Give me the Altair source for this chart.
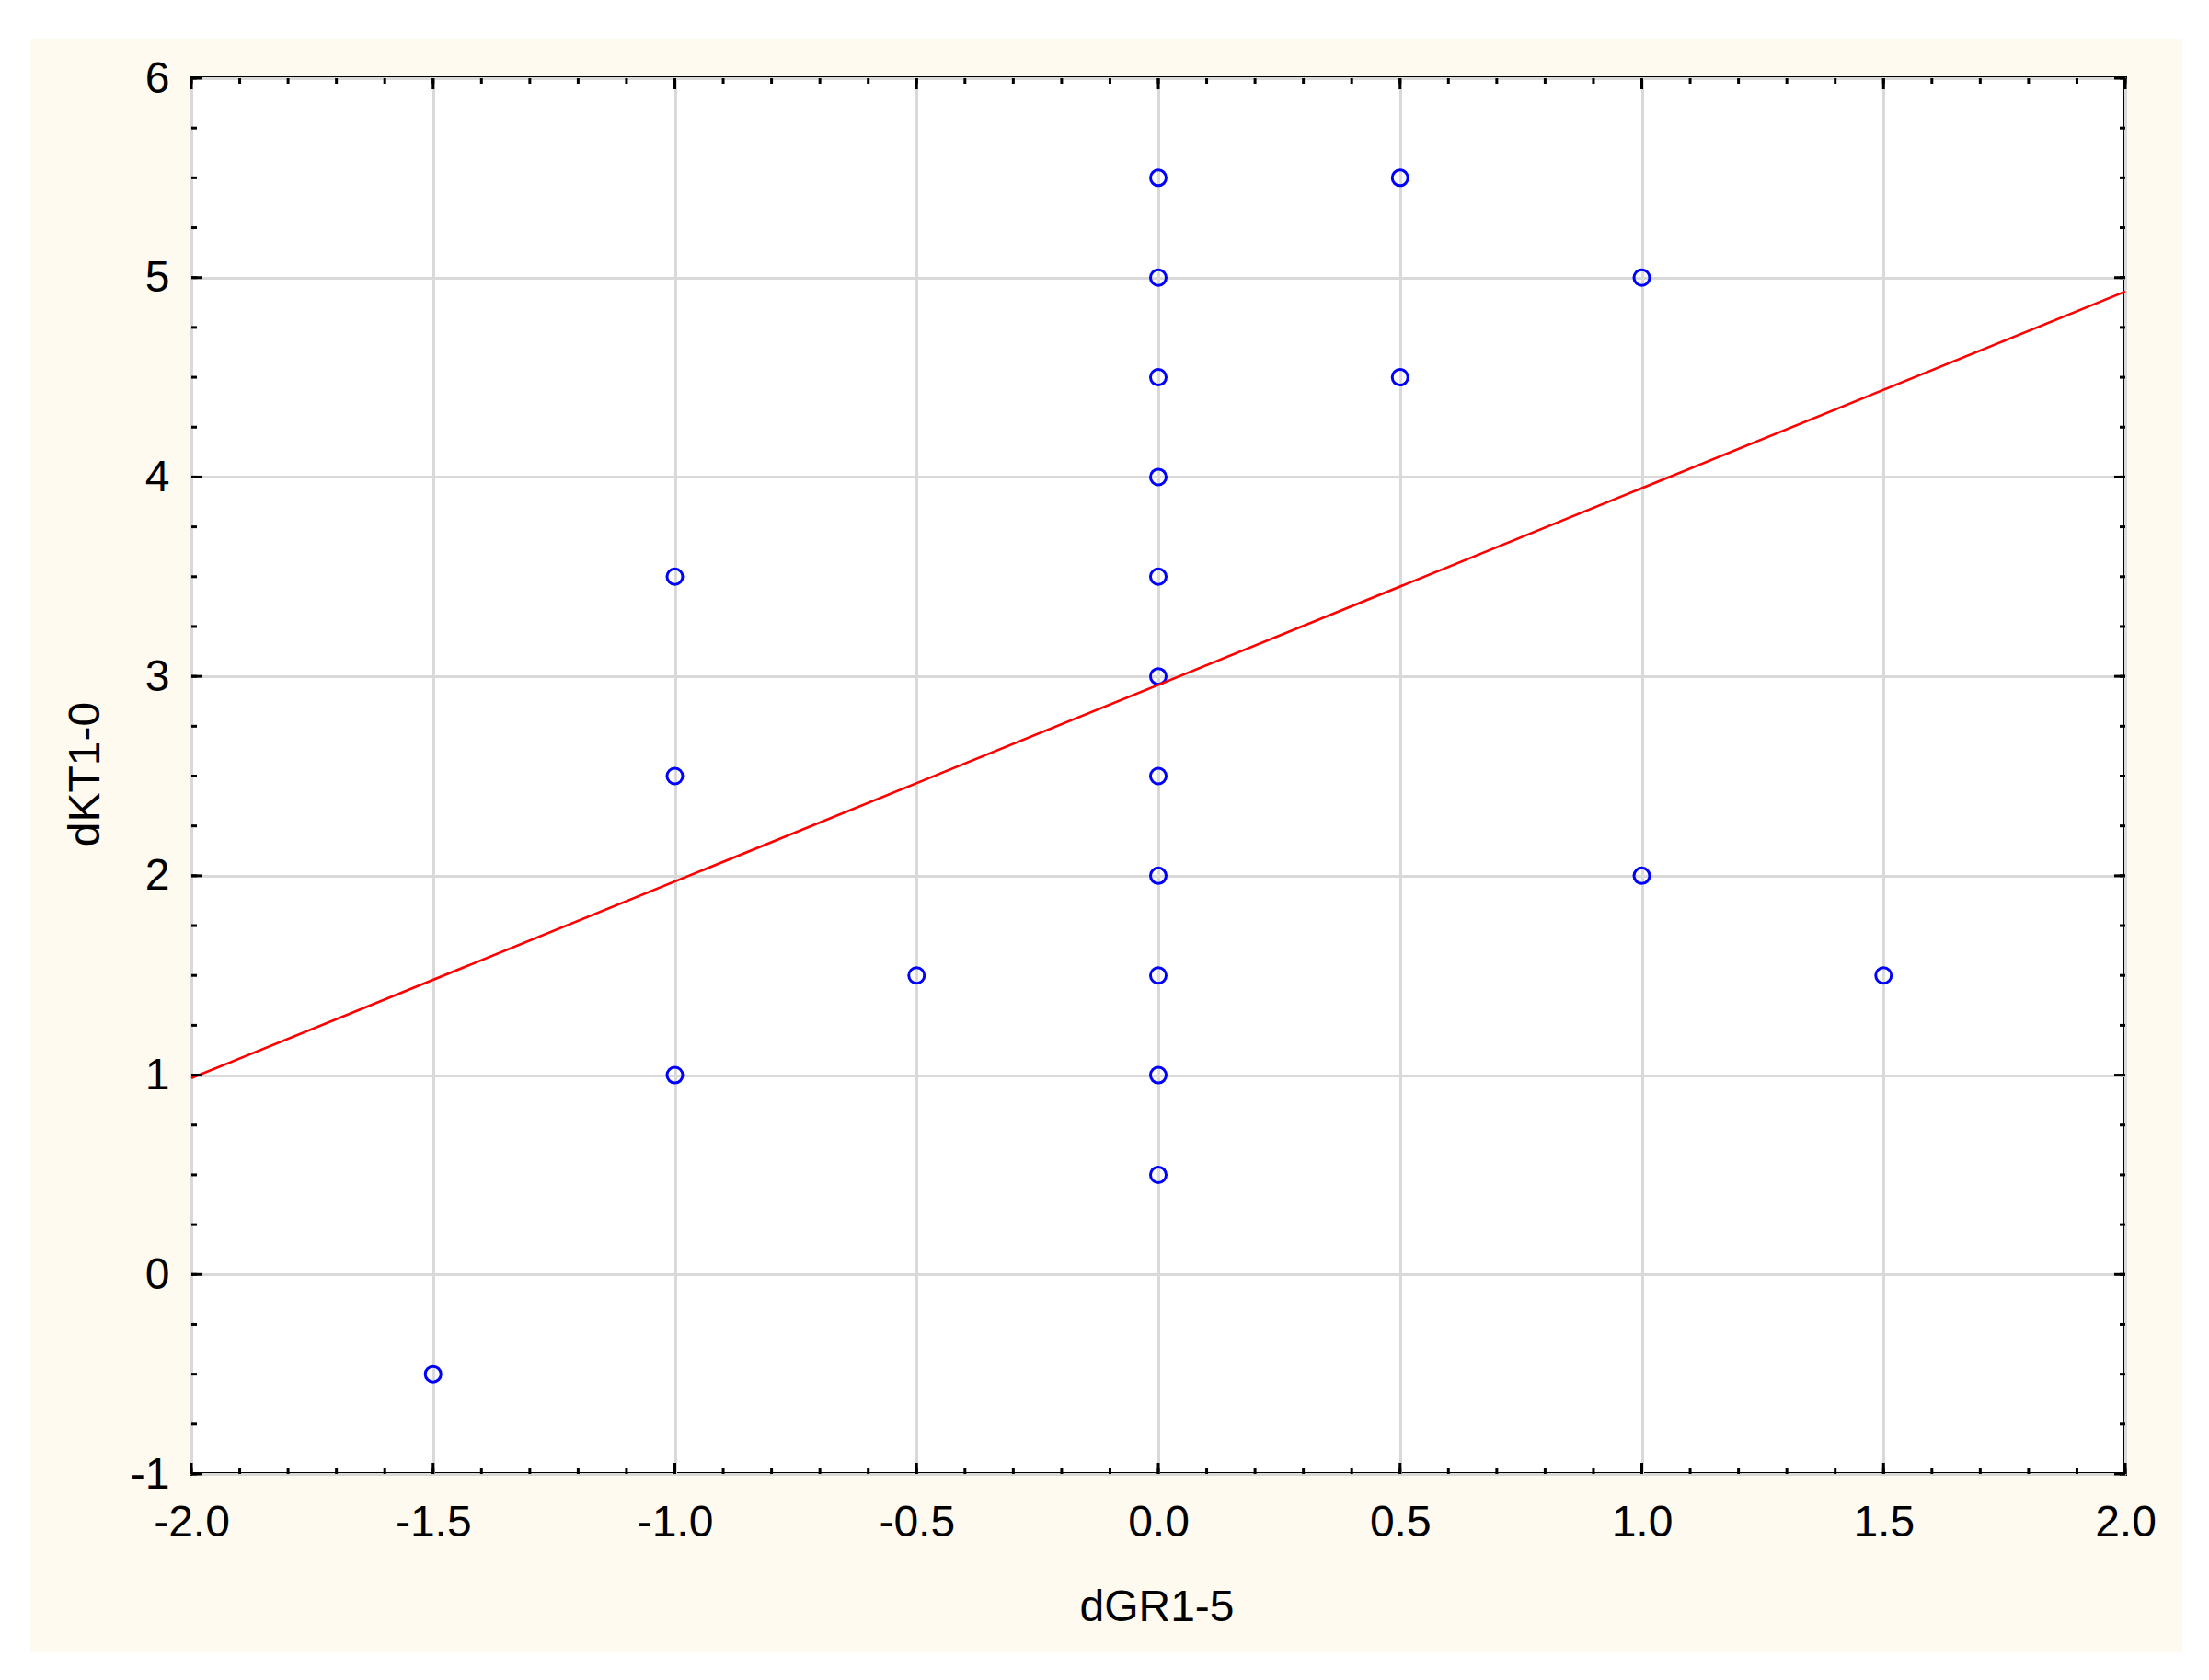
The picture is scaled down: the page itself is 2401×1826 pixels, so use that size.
import altair as alt
import pandas as pd
import numpy as np

# ---- data ----
pts_x = [0, 0, 0, 0, 0, 0, 0, 0, 0, 0, 0,
         0.5, 0.5, 1.0, 1.0, 1.5, -0.5, -1.0, -1.0, -1.0, -1.5]
pts_y = [5.5, 5.0, 4.5, 4.0, 3.5, 3.0, 2.5, 2.0, 1.5, 1.0, 0.5,
         5.5, 4.5, 5.0, 2.0, 1.5, 1.5, 3.5, 2.5, 1.0, -0.5]

line_x = [-2.0, 2.0]
line_y = [0.985, 4.93]

x_major = [-2.0, -1.5, -1.0, -0.5, 0.0, 0.5, 1.0, 1.5, 2.0]
y_major = [-1, 0, 1, 2, 3, 4, 5, 6]
x_minor = [round(v, 2) for v in np.arange(-2.0, 2.0001, 0.1)]
y_minor = [round(v, 2) for v in np.arange(-1.0, 6.0001, 0.25)]

W, H = 2102, 1517
FONT = "Liberation Sans"
CREAM = "#fffaf0"

pts = pd.DataFrame({"x": pts_x, "y": pts_y})
line = pd.DataFrame({"x": line_x, "y": line_y})

xscale = alt.Scale(domain=[-2, 2], nice=False, zero=False)
yscale = alt.Scale(domain=[-1, 6], nice=False, zero=False)

xaxis = alt.Axis(values=x_major, grid=True, ticks=False, domain=False,
                 labelExpr="datum.value < 0 ? '-' + format(-datum.value, '.1f') : format(datum.value, '.1f')",
                 labelFont=FONT, labelFontSize=48, labelColor="black", labelPadding=29,
                 labelFlush=False, labelOverlap=False,
                 gridColor="#d9d9d9", gridWidth=3,
                 title="dGR1-5", titleFont=FONT, titleFontSize=48, titleFontWeight="normal",
                 titleColor="black", titleX=1049, titleY=159, titleBaseline="alphabetic",
                 titleAlign="center")
yaxis = alt.Axis(values=y_major, grid=True, ticks=False, domain=False,
                 labelExpr="datum.value < 0 ? '-' + format(-datum.value, 'd') : format(datum.value, 'd')",
                 labelFont=FONT, labelFontSize=48, labelColor="black", labelPadding=24,
                 labelFlush=False, labelOverlap=False, labelOffset=1,
                 gridColor="#d9d9d9", gridWidth=3,
                 title="dKT1-0", titleFont=FONT, titleFontSize=48, titleFontWeight="normal",
                 titleColor="black", titleX=-101, titleY=756, titleAngle=270,
                 titleBaseline="alphabetic", titleAlign="center")

one = pd.DataFrame({"a": [0]})

strip_left = alt.Chart(one).mark_rect(color="white").encode(
    x=alt.value(-200), x2=alt.value(-175), y=alt.value(-77), y2=alt.value(1711))
strip_top = alt.Chart(one).mark_rect(color="white").encode(
    x=alt.value(-200), x2=alt.value(2164), y=alt.value(-77), y2=alt.value(-43))

points = alt.Chart(pts).mark_point(shape="circle", filled=False, color="#0000ff",
                                   size=290, strokeWidth=3, opacity=1).encode(
    x=alt.X("x:Q", scale=xscale, axis=xaxis),
    y=alt.Y("y:Q", scale=yscale, axis=yaxis),
)

reg = alt.Chart(line).mark_line(color="#ff0000", strokeWidth=2.6).encode(
    x=alt.X("x:Q", scale=xscale, axis=xaxis),
    y=alt.Y("y:Q", scale=yscale, axis=yaxis),
)

def xticks(vals, length):
    df = pd.DataFrame({"v": vals})
    bot = alt.Chart(df).mark_rule(color="black", strokeWidth=3).encode(
        x=alt.X("v:Q", scale=xscale, axis=xaxis),
        y=alt.value(H), y2=alt.value(H - length))
    top = alt.Chart(df).mark_rule(color="black", strokeWidth=3).encode(
        x=alt.X("v:Q", scale=xscale, axis=xaxis),
        y=alt.value(0), y2=alt.value(length))
    return [bot, top]

def yticks(vals, length):
    df = pd.DataFrame({"v": vals})
    left = alt.Chart(df).mark_rule(color="black", strokeWidth=3).encode(
        y=alt.Y("v:Q", scale=yscale, axis=yaxis),
        x=alt.value(0), x2=alt.value(length))
    right = alt.Chart(df).mark_rule(color="black", strokeWidth=3).encode(
        y=alt.Y("v:Q", scale=yscale, axis=yaxis),
        x=alt.value(W), x2=alt.value(W - length))
    return [left, right]

layers = [strip_left, strip_top, points, reg]
layers += xticks(x_minor, 6) + xticks(x_major, 12)
layers += yticks(y_minor, 6) + yticks(y_major, 12)

chart = alt.layer(*layers).properties(
    width=W, height=H,
    autosize=alt.AutoSizeParams(type="none"),
    padding={"left": 200, "top": 77, "right": 62, "bottom": 194},
    background=CREAM,
).configure_view(
    fill="white", stroke="black", strokeWidth=4
)

chart.save("out.html", embed_options={"renderer": "svg", "actions": False})
